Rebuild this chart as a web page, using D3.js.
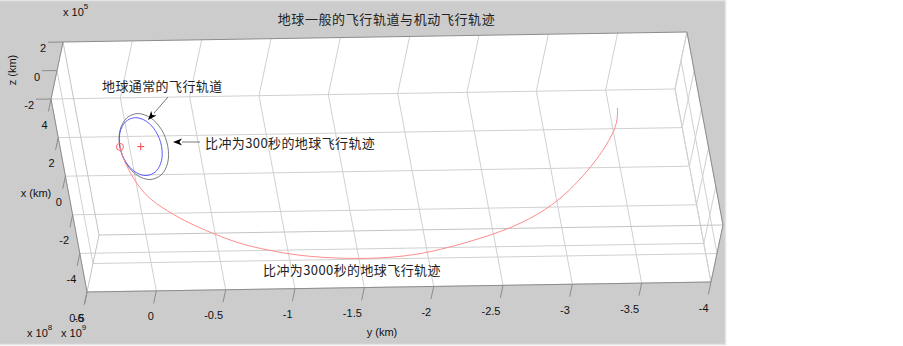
<!DOCTYPE html>
<html><head><meta charset="utf-8">
<script src="https://cdn.jsdelivr.net/npm/d3@7"></script>
<style>body{margin:0;background:#fff}svg{display:block}</style>
</head><body>
<svg id="c" width="903" height="346"></svg>
<script>
// ---------- data (km) ----------
const xLimits = [-6e8, 4e8];
const yLimits = [-4e9, 0.5e9];
const zLimits = [-2e5, 2e5];
const xTicks = [-6e8, -4e8, -2e8, 0, 2e8, 4e8];
const xTickLabels = ["-6", "-4", "-2", "0", "2", "4"];
const yTicks = [0.5e9, 0, -0.5e9, -1e9, -1.5e9, -2e9, -2.5e9, -3e9, -3.5e9, -4e9];
const yTickLabels = ["0.5", "0", "-0.5", "-1", "-1.5", "-2", "-2.5", "-3", "-3.5", "-4"];
const zTicks = [-2e5, 0, 2e5];
const zTickLabels = ["-2", "0", "2"];

// Earth's usual orbit (blue)
const orbitX = [1.5e8, 1.3e8, 0.75e8, 0, -0.75e8, -1.3e8, -1.5e8, -1.3e8, -0.75e8, 0, 0.75e8, 1.3e8];
const orbitY = [0, 0.75e8, 1.3e8, 1.5e8, 1.3e8, 0.75e8, 0, -0.75e8, -1.3e8, -1.5e8, -1.3e8, -0.75e8];
// Isp 300 s trajectory (grey)
const isp300X = [0, 0.86e8, 1.48e8, 1.71e8, 1.48e8, 0.86e8, 0, -0.86e8, -1.48e8, -1.71e8, -1.48e8, -0.86e8];
const isp300Y = [1.5e8, 1.27e8, 0.64e8, -0.22e8, -1.09e8, -1.72e8, -1.95e8, -1.72e8, -1.09e8, -0.22e8, 0.64e8, 1.27e8];
// Isp 3000 s trajectory (red)
const isp3000X = [0, -0.57e8, -1.36e8, -2.4e8, -3.14e8, -3.93e8, -4.25e8, -4.55e8, -5.11e8, -5.45e8, -5.78e8, -5.95e8, -5.98e8, -5.83e8, -5.49e8, -4.86e8, -4.11e8, -3.11e8, -2.09e8, -1.07e8, -0.05e8, 0.82e8, 1.6e8];
const isp3000Y = [1.5e8, 1.43e8, 1.13e8, 0.46e8, -0.58e8, -2.3e8, -3.17e8, -4.03e8, -5.83e8, -7.69e8, -9.98e8, -12.8e8, -15.7e8, -18.3e8, -20.7e8, -24.1e8, -27.0e8, -29.4e8, -31.1e8, -32.6e8, -33.8e8, -34.6e8, -34.8e8];
const sunPos = [0, 0, 0];

const titleText = "地球一般的飞行轨道与机动飞行轨迹";
const note1 = "地球通常的飞行轨道";
const note2 = "比冲为300秒的地球飞行轨迹";
const note3 = "比冲为3000秒的地球飞行轨迹";

// ---------- projection ----------
const sx = d3.scaleLinear().domain(xLimits).range([0, 1]);
const sy = d3.scaleLinear().domain([yLimits[1], yLimits[0]]).range([0, 1]);
const sz = d3.scaleLinear().domain(zLimits).range([0, 1]);
const O = [87, 292], VX = [-36, -193], VY = [624, -10], VZ = [12, -57];
function P(x, y, z) {
  const a = sx(x), b = sy(y), c = sz(z);
  return [O[0] + a * VX[0] + b * VY[0] + c * VZ[0], O[1] + a * VX[1] + b * VY[1] + c * VZ[1]];
}
const [x0, x1] = xLimits, [y0, y1] = yLimits, [z0, z1] = zLimits;

const svg = d3.select("#c");
const CJK = "'Noto Sans CJK SC', sans-serif";
const LAT = "'Liberation Sans', Arial, sans-serif";

// figure background
svg.append("rect").attr("x", 0).attr("y", 0).attr("width", 726).attr("height", 345)
  .attr("fill", "#cccccc");
svg.append("path").attr("d", "M0,0.5H725.5V344.5H0").attr("fill", "none").attr("stroke", "#e4e4e4").attr("stroke-width", 1.5);

// axes face (hexagon)
const hex = [P(x1, y1, z1), P(x1, y0, z1), P(x0, y0, z1), P(x0, y0, z0), P(x0, y1, z0), P(x1, y1, z0)];
svg.append("polygon").attr("points", hex.map(p => p.join(",")).join(" ")).attr("fill", "#fff");

const seg = (g, a, b, col, w) => g.append("line").attr("x1", a[0]).attr("y1", a[1]).attr("x2", b[0]).attr("y2", b[1])
  .attr("stroke", col).attr("stroke-width", w || 1);
const grid = svg.append("g");
const GC = "#d0d0d0";
// floor z = zmin
xTicks.forEach(x => seg(grid, P(x, y1, z0), P(x, y0, z0), GC));
yTicks.forEach(y => seg(grid, P(x0, y, z0), P(x1, y, z0), GC));
// back wall x = xmax
yTicks.forEach(y => seg(grid, P(x1, y, z0), P(x1, y, z1), GC));
// right wall y = ymin
xTicks.forEach(x => seg(grid, P(x, y0, z0), P(x, y0, z1), GC));
zTicks.forEach(z => seg(grid, P(x0, y0, z), P(x1, y0, z), GC));
// z = 0 lines on front walls
seg(grid, P(x0, y1, 0), P(x0, y0, 0), GC);
seg(grid, P(x0, y1, 0), P(x1, y1, 0), GC);

// box edges
const BC = "#c4c4c4";
seg(grid, P(x0, y1, z1), P(x0, y0, z1), BC);
seg(grid, P(x0, y1, z1), P(x1, y1, z1), BC);
seg(grid, P(x0, y1, z1), P(x0, y1, z0), BC);
const AC = "#8c8c8c";
[[P(x1, y1, z1), P(x1, y0, z1)], [P(x1, y0, z1), P(x0, y0, z1)], [P(x0, y0, z1), P(x0, y0, z0)],
 [P(x0, y0, z0), P(x0, y1, z0)], [P(x0, y1, z0), P(x1, y1, z0)], [P(x1, y1, z0), P(x1, y1, z1)]]
  .forEach(([a, b]) => seg(grid, a, b, AC));

// ticks & labels
const tk = svg.append("g");
const tickDown = [-VZ[0] * 0.22, -VZ[1] * 0.22];
const tl = svg.append("g").attr("font-family", LAT).attr("font-size", 11).attr("fill", "#111");
yTicks.forEach((y, i) => {
  const p = P(x0, y, z0);
  seg(tk, p, [p[0] + tickDown[0], p[1] + tickDown[1]], AC);
  tl.append("text").attr("x", p[0] - 2.5).attr("y", p[1] + 25.5).attr("text-anchor", "end")
    .attr("dominant-baseline", "central").text(yTickLabels[i]);
});
xTicks.forEach((x, i) => {
  const p = P(x, y1, z0);
  seg(tk, p, [p[0] + tickDown[0], p[1] + tickDown[1]], AC);
  tl.append("text").attr("x", p[0] - 3.5).attr("y", p[1] + 25.5).attr("text-anchor", "end")
    .attr("dominant-baseline", "central").text(xTickLabels[i]);
});
zTicks.forEach((z, i) => {
  const p = P(x1, y1, z);
  seg(tk, p, [p[0] - 15, p[1] + 0.25], AC);
  tl.append("text").attr("x", p[0] - 17).attr("y", p[1] + 6).attr("text-anchor", "end")
    .attr("dominant-baseline", "central").text(zTickLabels[i]);
});

// exponents & axis labels
function expo(x, y, base, e) {
  const t = tl.append("text").attr("x", x).attr("y", y);
  t.append("tspan").text(base);
  t.append("tspan").attr("font-size", 8).attr("dy", -7).text(e);
}
expo(63, 16, "x 10", "5");
expo(27, 337, "x 10", "8");
expo(61, 337, "x 10", "9");
tl.append("text").attr("transform", "translate(16,70) rotate(-90)").attr("text-anchor", "middle").text("z (km)");
tl.append("text").attr("x", 36).attr("y", 193).attr("text-anchor", "middle").attr("dominant-baseline", "central").text("x (km)");
tl.append("text").attr("x", 382).attr("y", 332).attr("text-anchor", "middle").attr("dominant-baseline", "central").text("y (km)");

// curves
const pts = (X, Y) => X.map((x, i) => P(x, Y[i], 0));
svg.append("path").attr("d", d3.line().curve(d3.curveCatmullRomClosed)(pts(isp300X, isp300Y)))
  .attr("fill", "none").attr("stroke", "#6e6e6e").attr("stroke-width", 0.9);
svg.append("path").attr("d", d3.line().curve(d3.curveCatmullRomClosed)(pts(orbitX, orbitY)))
  .attr("fill", "none").attr("stroke", "#4a4aff").attr("stroke-width", 0.9);
svg.append("path").attr("d", d3.line().curve(d3.curveBasis)(pts(isp3000X, isp3000Y)))
  .attr("fill", "none").attr("stroke", "#ff8c8c").attr("stroke-width", 1);

// markers
const sp = P(...sunPos);
seg(svg, [sp[0] - 3.5, sp[1]], [sp[0] + 3.5, sp[1]], "#ff4040");
seg(svg, [sp[0], sp[1] - 3.5], [sp[0], sp[1] + 3.5], "#ff4040");
const st = P(isp3000X[0], isp3000Y[0], 0);
svg.append("circle").attr("cx", st[0]).attr("cy", st[1]).attr("r", 3.5).attr("fill", "none").attr("stroke", "#ff6060");

// annotations
const ann = svg.append("g").attr("font-family", CJK).attr("font-size", 13).attr("fill", "#222");
ann.append("text").attr("x", 386.5).attr("y", 18).attr("text-anchor", "middle").attr("dominant-baseline", "central")
  .attr("letter-spacing", 0.6).text(titleText);
ann.append("text").attr("x", 102).attr("y", 85).attr("dominant-baseline", "central").attr("letter-spacing", 0.4).text(note1);
ann.append("text").attr("x", 205).attr("y", 142).attr("dominant-baseline", "central").attr("letter-spacing", 0.4).text(note2);
ann.append("text").attr("x", 263).attr("y", 269).attr("dominant-baseline", "central").attr("letter-spacing", 0.4).text(note3);

function arrow(from, to) {
  const dx = to[0] - from[0], dy = to[1] - from[1], L = Math.hypot(dx, dy), ux = dx / L, uy = dy / L;
  const hl = 9, hw = 3.5;
  const b = [to[0] - ux * hl, to[1] - uy * hl];
  seg(svg, from, b, "#555", 0.8);
  svg.append("path").attr("d", `M${to[0]},${to[1]}L${b[0] - uy * hw},${b[1] + ux * hw}L${b[0] + ux * 2.5},${b[1] + uy * 2.5}L${b[0] + uy * hw},${b[1] - ux * hw}Z`)
    .attr("fill", "#000");
}
arrow([168, 97], [148, 120]);
arrow([200, 142], [173, 142]);
</script>
</body></html>
